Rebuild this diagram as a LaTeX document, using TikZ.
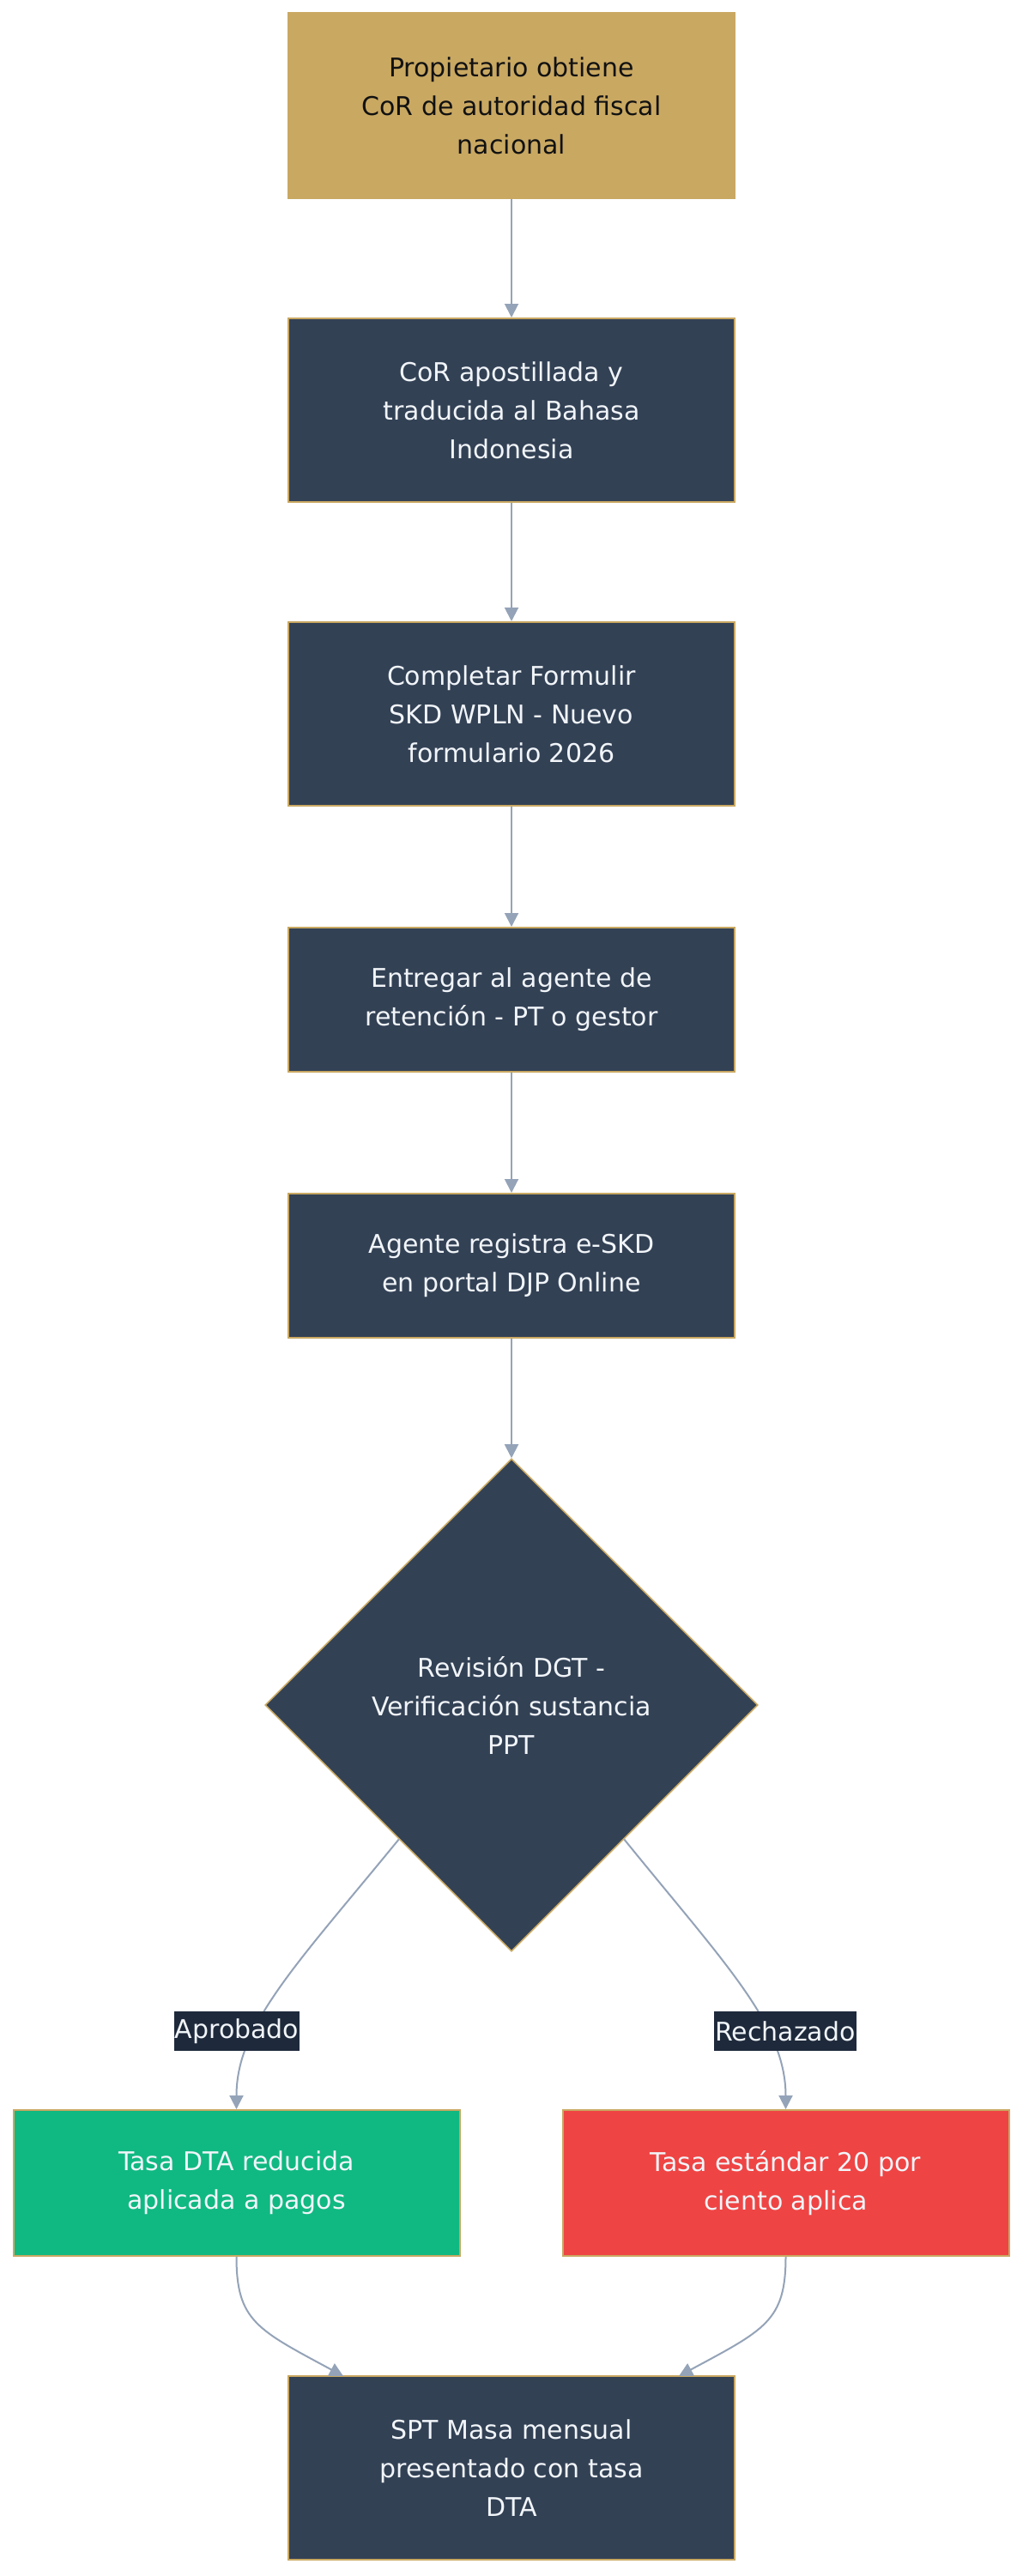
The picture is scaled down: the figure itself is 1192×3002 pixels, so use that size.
\documentclass[tikz,border=0pt]{standalone}
\usepackage{fontspec}
\setmainfont{DejaVu Sans}
\usetikzlibrary{shapes.geometric,arrows.meta}
\definecolor{gold}{HTML}{C9A862}
\definecolor{slate}{HTML}{334155}
\definecolor{lblbg}{HTML}{1E293B}
\definecolor{edgec}{HTML}{94A3B8}
\definecolor{greenb}{HTML}{10B981}
\definecolor{redb}{HTML}{EF4444}
\definecolor{txtl}{HTML}{F1F5F9}
\definecolor{txtd}{HTML}{111111}
\tikzset{
  base/.style={rectangle, align=center, inner sep=0pt, font=\fontsize{15pt}{22.5pt}\selectfont,
    minimum width=260pt, text=txtl, draw=gold, line width=1pt},
  stepbox/.style={base, fill=slate},
  startbox/.style={base, fill=gold, draw=gold, text=txtd},
  okbox/.style={base, fill=greenb},
  badbox/.style={base, fill=redb},
  decide/.style={diamond, aspect=1, align=center, inner sep=0pt, minimum width=287pt, minimum height=287pt,
    fill=slate, draw=gold, line width=0.8pt, text=txtl, font=\fontsize{15pt}{22.5pt}\selectfont},
  lbl/.style={fill=lblbg, text=txtl, inner xsep=0.5pt, inner ysep=0pt, minimum height=23pt, font=\fontsize{15pt}{18pt}\selectfont},
  conn/.style={draw=edgec, line width=1pt, -{Triangle[length=8pt,width=8pt]}}
}
\begin{document}
\begin{tikzpicture}[x=0.5pt,y=-0.5pt]
\useasboundingbox[fill=white] (0,0) rectangle (1192,3002);
\node[startbox, minimum height=108pt] (n1) at (596,123.5) {Propietario obtiene\\CoR de autoridad fiscal\\nacional};
\node[stepbox, minimum height=107pt] (n2) at (596,478) {CoR apostillada y\\traducida al Bahasa\\Indonesia};
\node[stepbox, minimum height=107pt] (n3) at (596,832) {Completar Formulir\\SKD WPLN - Nuevo\\formulario 2026};
\node[stepbox, minimum height=84pt] (n4) at (596,1165) {Entregar al agente de\\retención - PT o gestor};
\node[stepbox, minimum height=84pt] (n5) at (596,1475) {Agente registra e-SKD\\en portal DJP Online};
\node[decide] (d) at (596,1987) {Revisión DGT -\\Verificación sustancia\\PPT};
\node[okbox, minimum height=85pt] (g) at (275.5,2544) {Tasa DTA reducida\\aplicada a pagos};
\node[badbox, minimum height=85pt] (r) at (915.5,2544) {Tasa estándar 20 por\\ciento aplica};
\node[stepbox, minimum height=107pt] (b) at (596,2876) {SPT Masa mensual\\presentado con tasa\\DTA};

\draw[conn] (n1.south) -- (n2.north);
\draw[conn] (n2.south) -- (n3.north);
\draw[conn] (n3.south) -- (n4.north);
\draw[conn] (n4.south) -- (n5.north);
\draw[conn] (n5.south) -- (d.north);

\draw[conn] (d.-130) .. controls (345,2290) and (275.5,2360) .. (g.north);
\draw[conn] (d.-50) .. controls (846,2290) and (915.5,2360) .. (r.north);
\node[lbl] (la) at (276,2367) {Aprobado};
\node[lbl] (lr) at (915,2367) {Rechazado};

\coordinate (bl) at (400,2769);
\coordinate (br) at (791,2769);
\draw[conn] (g.south) .. controls (275.5,2705) and (300,2715) .. (bl);
\draw[conn] (r.south) .. controls (915.5,2705) and (891,2715) .. (br);
\end{tikzpicture}
\end{document}
